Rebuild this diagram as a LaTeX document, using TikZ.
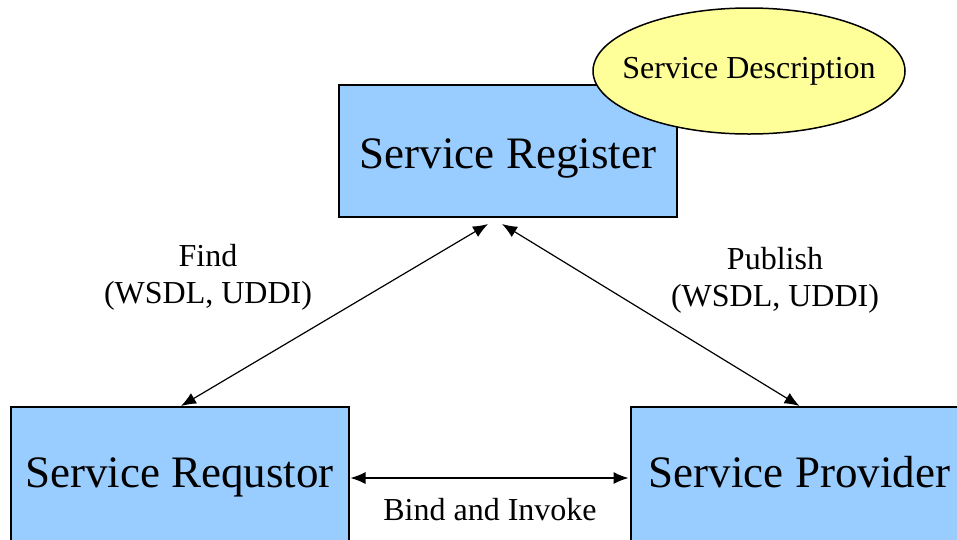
\documentclass[tikz,border=0pt]{standalone}
\usepackage{fontspec}
\setmainfont{Liberation Serif}
\usetikzlibrary{arrows.meta}
\tikzset{>={Latex[length=15pt,width=12pt]}}
\definecolor{boxblue}{RGB}{153,204,255}
\definecolor{descyellow}{RGB}{255,255,153}
\tikzset{
    svcbox/.style={draw,fill=boxblue,line width=2pt,minimum width=338pt,minimum height=132pt,inner sep=0pt,text depth=0pt,font=\fontsize{45}{50}\selectfont},
    lbl/.style={align=center,inner sep=0pt,font=\fontsize{32}{37}\selectfont}
}

\begin{document}
\begin{tikzpicture}[x=1pt,y=-1pt]
                \useasboundingbox (0,0) rectangle (957,539);
                \clip (0,0) rectangle (957,539);
                \node[svcbox,text height=34pt] (reg) at (508,151) {Service Register};
                \draw[fill=descyellow,line width=1.5pt] (749,71) ellipse (156 and 63);
                \node[lbl] (desc) at (749,71) {Service Description};
                \node[svcbox,minimum height=134pt,text height=26pt] (req) at (179.5,474) {Service Requstor};
                \node[svcbox,minimum height=134pt,text height=26pt] (prov) at (799.5,474) {Service Provider};
                \node[lbl] (find) at (208,277) {Find\\(WSDL, UDDI)};
                \node[lbl] (pub) at (775,280) {Publish\\(WSDL, UDDI)};
                \node[lbl] (bind) at (490,510) {Bind and Invoke};
                \coordinate (regl) at ([xshift=-20pt,yshift=-6pt]reg.south);
                \coordinate (regr) at ([xshift=-6pt,yshift=-6pt]reg.south);
                \draw[<->,line width=1.2pt] ([xshift=1.5pt]req.north) -- (regl);
                \draw[<->,line width=1.2pt] (prov.north) -- (regr);
                \draw[<->,line width=1.2pt] ([xshift=1pt,yshift=-4pt]req.east) -- ([xshift=-1pt,yshift=-4pt]prov.west);
            \end{tikzpicture}
\end{document}
